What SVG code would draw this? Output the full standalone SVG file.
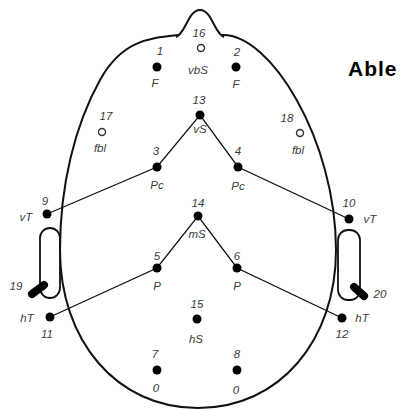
<svg xmlns="http://www.w3.org/2000/svg" width="400" height="410" viewBox="0 0 400 410">
  <style>
    .outline { fill: none; stroke: #111; stroke-width: 2; }
    .wire { fill: none; stroke: #111; stroke-width: 1.3; }
    .dot { fill: #000; }
    .ring { fill: #fff; stroke: #333; stroke-width: 1.4; }
    .lbl { font-family: "Liberation Sans", Arial, sans-serif; font-style: italic; font-size: 11.5px; fill: #3a3a3a; text-anchor: middle; }
    .ear { fill: none; stroke: #111; stroke-width: 1.8; }
    .plug { stroke: #000; stroke-width: 8; stroke-linecap: round; }
    .title { font-family: "Liberation Sans", Arial, sans-serif; font-weight: bold; font-size: 21px; letter-spacing: 1px; fill: #000; }
  </style>
  <rect width="400" height="410" fill="#fff"/>

  <!-- head outline with nose -->
  <g id="head">
    <path class="outline" d="M178,35 C150,38 122,40 100,80 C75,125 60,185 60,250 C60,340 116,408 198,408 C280,408 336,340 336,250 C336,140 270,33 222,35"/>
    <path class="outline" d="M176,37 C186,33 188,10 200,10 C212,10 214,33 224,37"/>
  </g>

  <!-- ears -->
  <g id="ear-left">
    <rect class="ear" x="40" y="228" width="20" height="70" rx="10"/>
  </g>
  <g id="ear-right">
    <rect class="ear" x="338" y="230" width="22" height="70" rx="10"/>
  </g>

  <!-- electrode connections -->
  <g id="connectors">
    <polyline class="wire" points="47,214 157,167 200,115 238,167 349,219"/>
    <polyline class="wire" points="50,317 157,268 198,216 237,268 342,318"/>
  </g>

  <g id="e16"><text class="lbl" x="199" y="37">16</text><circle class="ring" cx="201" cy="48" r="3.5"/><text class="lbl" x="198" y="74">vbS</text></g>
  <g id="e1"><text class="lbl" x="160" y="55">1</text><circle class="dot" cx="157" cy="67" r="4.5"/><text class="lbl" x="155" y="87">F</text></g>
  <g id="e2"><text class="lbl" x="237" y="56">2</text><circle class="dot" cx="236" cy="67" r="4.5"/><text class="lbl" x="236" y="88">F</text></g>
  <g id="e13"><text class="lbl" x="199" y="104">13</text><circle class="dot" cx="200" cy="115" r="4.5"/><text class="lbl" x="200" y="133">vS</text></g>
  <g id="e17"><text class="lbl" x="106" y="120">17</text><circle class="ring" cx="102" cy="132" r="3.5"/><text class="lbl" x="100" y="152">fbl</text></g>
  <g id="e18"><text class="lbl" x="287" y="122">18</text><circle class="ring" cx="300" cy="133" r="3.5"/><text class="lbl" x="298" y="154">fbl</text></g>
  <g id="e3"><text class="lbl" x="156" y="155">3</text><circle class="dot" cx="157" cy="167" r="4.5"/><text class="lbl" x="157" y="189">Pc</text></g>
  <g id="e4"><text class="lbl" x="238" y="155">4</text><circle class="dot" cx="238" cy="167" r="4.5"/><text class="lbl" x="238" y="190">Pc</text></g>
  <g id="e9"><text class="lbl" x="45" y="205">9</text><circle class="dot" cx="47" cy="214" r="4.5"/><text class="lbl" x="26" y="221">vT</text></g>
  <g id="e10"><text class="lbl" x="349" y="207">10</text><circle class="dot" cx="349" cy="219" r="4.5"/><text class="lbl" x="370" y="223">vT</text></g>
  <g id="e14"><text class="lbl" x="198" y="207">14</text><circle class="dot" cx="198" cy="216" r="4.5"/><text class="lbl" x="197" y="238">mS</text></g>
  <g id="e5"><text class="lbl" x="157" y="260">5</text><circle class="dot" cx="157" cy="268" r="4.5"/><text class="lbl" x="157" y="290">P</text></g>
  <g id="e6"><text class="lbl" x="237" y="260">6</text><circle class="dot" cx="237" cy="268" r="4.5"/><text class="lbl" x="237" y="290">P</text></g>
  <g id="e15"><text class="lbl" x="197" y="308">15</text><circle class="dot" cx="197" cy="319" r="4.5"/><text class="lbl" x="196" y="343">hS</text></g>
  <g id="e7"><text class="lbl" x="155" y="358">7</text><circle class="dot" cx="157" cy="370" r="4.5"/><text class="lbl" x="156" y="392">0</text></g>
  <g id="e8"><text class="lbl" x="237" y="358">8</text><circle class="dot" cx="237" cy="370" r="4.5"/><text class="lbl" x="236" y="394">0</text></g>
  <g id="e11"><text class="lbl" x="27" y="322">hT</text><circle class="dot" cx="50" cy="317" r="4.5"/><text class="lbl" x="47" y="338">11</text></g>
  <g id="e12"><text class="lbl" x="362" y="322">hT</text><circle class="dot" cx="342" cy="318" r="4.5"/><text class="lbl" x="342" y="338">12</text></g>
  <g id="e19"><line class="plug" x1="32" y1="294" x2="44" y2="285"/><text class="lbl" x="16" y="290">19</text></g>
  <g id="e20"><line class="plug" x1="354" y1="287" x2="364" y2="296"/><text class="lbl" x="380" y="298">20</text></g>

  <text class="title" x="348" y="76">Able</text>
</svg>
